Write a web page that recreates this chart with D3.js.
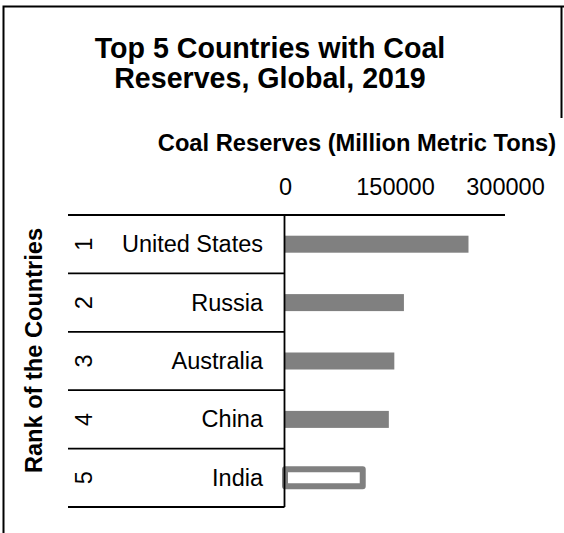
<!DOCTYPE html>
<html>
<head>
<meta charset="utf-8">
<script src="https://cdn.jsdelivr.net/npm/d3@7/dist/d3.min.js"></script>
<style>
  html, body { margin: 0; padding: 0; background: #fff; }
  svg { display: block; font-family: "Liberation Sans", Arial, sans-serif; }
</style>
</head>
<body>
<svg id="chart" width="564" height="533"></svg>
<script>
// ---- data ----
const ranks = ["1", "2", "3", "4", "5"];
const countries = ["United States", "Russia", "Australia", "China", "India"];
const reserves = [250219, 162166, 149079, 141595, 106000];
const tickValues = [0, 150000, 300000];
const tickLabels = ["0", "150000", "300000"];
const titleLines = ["Top 5 Countries with Coal", "Reserves, Global, 2019"];
const xTitle = "Coal Reserves (Million Metric Tons)";
const yTitle = "Rank of the Countries";

const svg = d3.select("#chart");
svg.append("rect").attr("width", 564).attr("height", 533).attr("fill", "#fff");

// frame
svg.append("path")
  .attr("d", "M3.5,533 L3.5,6.5 L564,6.5 M561.5,6.5 L561.5,118")
  .attr("fill", "none").attr("stroke", "#000").attr("stroke-width", 2);

// title
svg.append("text")
  .attr("x", 270).attr("y", 58)
  .attr("text-anchor", "middle")
  .attr("font-weight", "bold").attr("font-size", 28.6)
  .selectAll("tspan").data(titleLines).join("tspan")
  .attr("x", 270).attr("dy", (d, i) => i === 0 ? 0 : 30)
  .text(d => d);

// scales
const x = d3.scaleLinear().domain([0, 300000]).range([285, 505]);
const y = d3.scaleBand().domain(ranks).range([215, 507]).padding(0);
const barH = 17;

// x axis title
svg.append("text")
  .attr("x", 357).attr("y", 151)
  .attr("text-anchor", "middle")
  .attr("font-weight", "bold").attr("font-size", 23.7)
  .text(xTitle);

// x tick labels via d3 axis
const xAxis = d3.axisTop(x).tickValues(tickValues)
  .tickFormat((d, i) => tickLabels[i]).tickSize(0).tickPadding(0);
const gx = svg.append("g").attr("transform", "translate(0,195)").call(xAxis);
gx.select(".domain").remove();
gx.selectAll("text").attr("font-size", 23.5).attr("font-family", "Liberation Sans, Arial, sans-serif")
  .attr("fill", "#000").attr("dy", 0);

// top axis line
svg.append("line")
  .attr("x1", 68).attr("x2", x(300000))
  .attr("y1", 215).attr("y2", 215)
  .attr("stroke", "#000").attr("stroke-width", 1.8);

// row dividers
svg.append("g").selectAll("line").data(ranks).join("line")
  .attr("x1", 68).attr("x2", 284.5)
  .attr("y1", d => y(d) + y.bandwidth()).attr("y2", d => y(d) + y.bandwidth())
  .attr("stroke", "#000").attr("stroke-width", 1.8);

// bars
const rows = ranks.map((r, i) => ({ rank: r, country: countries[i], value: reserves[i] }));
svg.append("g").selectAll("rect").data(rows).join("rect")
  .attr("x", x(0))
  .attr("y", d => y(d.rank) + y.bandwidth() / 2 - barH / 2)
  .attr("width", d => x(d.value) - x(0))
  .attr("height", barH)
  .attr("fill", (d, i) => i === 4 ? "#fff" : "#808080")
  .attr("stroke", (d, i) => i === 4 ? "#808080" : "none")
  .attr("stroke-width", (d, i) => i === 4 ? 6 : 0)
  .attr("stroke-linejoin", "round");

// vertical axis line
svg.append("line")
  .attr("x1", 284.5).attr("x2", 284.5)
  .attr("y1", 215).attr("y2", 507)
  .attr("stroke", "#000").attr("stroke-width", 1.8);

// country labels
svg.append("g").selectAll("text").data(rows).join("text")
  .attr("x", 263)
  .attr("y", d => y(d.rank) + y.bandwidth() / 2 + 8)
  .attr("text-anchor", "end")
  .attr("font-size", 23.5)
  .text(d => d.country);

// rank labels (rotated)
svg.append("g").selectAll("text").data(rows).join("text")
  .attr("transform", d => `translate(91.5,${y(d.rank) + y.bandwidth() / 2}) rotate(-90)`)
  .attr("text-anchor", "middle")
  .attr("font-size", 23.5)
  .text(d => d.rank);

// y axis title
svg.append("text")
  .attr("transform", "translate(42,350.5) rotate(-90)")
  .attr("text-anchor", "middle")
  .attr("font-weight", "bold").attr("font-size", 23.6)
  .text(yTitle);
</script>
</body>
</html>
